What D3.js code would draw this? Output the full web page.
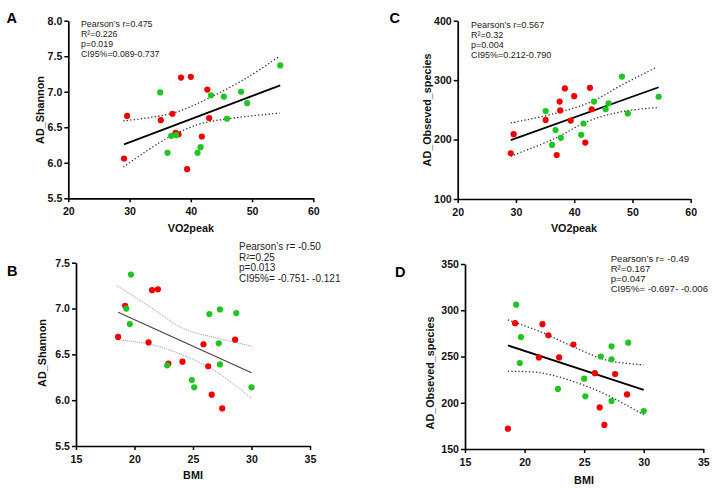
<!DOCTYPE html>
<html>
<head>
<meta charset="utf-8">
<script src="https://cdn.jsdelivr.net/npm/d3@7"></script>
<style>
body { margin: 0; background: #fff; }
svg { display: block; font-family: "Liberation Sans", Arial, sans-serif; }
.tick text { font-weight: bold; font-size: 10.6px; fill: #111; }
</style>
</head>
<body>
<svg id="chart" width="718" height="495"></svg>
<script>
// --- panel A: VO2peak vs AD_Shannon
var aRedX = [29.1, 29.6, 35.1, 37.0, 38.4, 40.0, 37.5, 38.0, 42.7, 43.0, 41.8, 39.4];
var aRedY = [6.06, 6.66, 6.60, 6.69, 7.20, 7.21, 6.42, 6.40, 7.03, 6.63, 6.37, 5.91];
var aGreenX = [35.0, 36.8, 37.6, 36.2, 41.6, 41.1, 43.3, 45.4, 48.2, 49.2, 45.9, 54.6];
var aGreenY = [6.99, 6.38, 6.39, 6.14, 6.22, 6.14, 6.95, 6.93, 7.00, 6.84, 6.62, 7.37];
var aFit = [[29.1, 6.26], [54.6, 7.09]];
var aUpper = [[29.0, 6.59], [37.1, 6.70], [43.4, 6.93], [49.4, 7.21], [54.5, 7.50]];
var aLower = [[29.0, 5.94], [35.8, 6.33], [41.2, 6.54], [46.1, 6.62], [54.5, 6.70]];
var aStats = ["Pearson\u2019s r=0.475", "R\u00b2=0.226", "p=0.019", "CI95%=0.089-0.737"];

// --- panel C: VO2peak vs AD_Obseved_species
var cRedX = [29.1, 29.6, 35.1, 37.6, 37.5, 38.4, 40.0, 39.4, 37.0, 42.7, 43.0, 41.9];
var cRedY = [177, 209, 233, 249, 264, 286, 273, 232, 174, 287, 251, 195];
var cGreenX = [35.1, 36.8, 36.2, 37.7, 41.6, 41.2, 43.4, 45.4, 45.9, 48.2, 49.2, 54.5];
var cGreenY = [248, 216, 191, 203, 227, 208, 264, 251, 261, 306, 244, 272];
var cFit = [[29.1, 199], [54.5, 288]];
var cUpper = [[29.1, 228], [36.7, 244], [43.0, 264], [48.2, 292], [54.2, 322]];
var cLower = [[29.1, 172], [36.7, 202], [42.4, 231], [48.2, 247], [54.4, 254]];
var cStats = ["Pearson\u2019s r=0.567", "R\u00b2=0.32", "p=0.004", "CI95%=0.212-0.790"];

// --- panel B: BMI vs AD_Shannon
var bRedX = [18.6, 19.2, 21.5, 22.0, 21.2, 22.9, 24.1, 25.9, 26.3, 26.6, 27.5, 28.6];
var bRedY = [6.69, 7.03, 7.20, 7.21, 6.63, 6.40, 6.42, 6.61, 6.37, 6.06, 5.91, 6.66];
var bGreenX = [19.7, 19.3, 19.6, 22.8, 24.9, 25.1, 26.4, 27.3, 27.2, 27.3, 28.7, 30.0];
var bGreenY = [7.37, 7.00, 6.83, 6.38, 6.22, 6.14, 6.94, 6.99, 6.62, 6.39, 6.95, 6.14];
var bFit = [[18.6, 6.96], [30.0, 6.30]];
var bUpper = [[18.5, 7.25], [21.3, 7.02], [24.2, 6.78], [27.0, 6.68], [30.0, 6.59]];
var bLower = [[18.5, 6.66], [21.3, 6.61], [24.2, 6.49], [27.0, 6.31], [30.0, 6.02]];
var bStats = ["Pearson\u2019s r= -0.50", "R\u00b2=0.25", "p=0.013", "CI95%= -0.751- -0.121"];

// --- panel D: BMI vs AD_Obseved_species
var dRedX = [18.6, 19.2, 21.5, 22.0, 21.2, 22.9, 24.1, 25.9, 27.6, 26.3, 26.7, 28.6];
var dRedY = [172, 286, 285, 273, 249, 249, 263, 232, 231, 195, 176, 209];
var dGreenX = [19.3, 19.7, 19.6, 22.8, 25.0, 25.1, 26.4, 27.3, 27.3, 27.3, 28.7, 30.0];
var dGreenY = [306, 271, 243, 215, 226, 207, 250, 261, 247, 202, 265, 191];
var dFit = [[18.6, 262], [30.0, 214]];
var dUpper = [[18.6, 289.5], [21.3, 277], [24.1, 260.5], [26.9, 246], [30.0, 241]];
var dLower = [[18.6, 234], [21.3, 232.5], [24.1, 223], [26.9, 208.5], [30.0, 187]];
var dStats = ["Pearson\u2019s r= -0.49", "R\u00b2=0.167", "p=0.047", "CI95%= -0.697- -0.006"];

// tick values
var vo2Ticks = [20, 30, 40, 50, 60];
var bmiTicks = [15, 20, 25, 30, 35];
var shannonTicks = [5.5, 6.0, 6.5, 7.0, 7.5, 8.0];
var shannonTicksB = [5.5, 6.0, 6.5, 7.0, 7.5];
var speciesTicksC = [100, 200, 300, 400];
var speciesTicksD = [150, 200, 250, 300, 350];

var RED = "#f20000", GREEN = "#20c620";

var svg = d3.select("#chart");

var zip = function(xs, ys) {
    return xs.map(function(x, i) { return [x, ys[i]]; });
};

var drawPanel = function(p) {
    var x = d3.scaleLinear().domain(p.xd).range([p.left, p.right]);
    var y = d3.scaleLinear().domain(p.yd).range([p.bottom, p.top]);
    var g = svg.append("g");

    var xa = g.append("g").attr("transform", "translate(0," + p.bottom + ")")
        .call(d3.axisBottom(x).tickValues(p.xt).tickSize(4).tickPadding(5.5).tickSizeOuter(0));
    var ya = g.append("g").attr("transform", "translate(" + p.left + ",0)")
        .call(d3.axisLeft(y).tickValues(p.yt).tickSize(4).tickPadding(2).tickSizeOuter(0)
            .tickFormat(p.yf));
    [xa, ya].forEach(function(a) {
        a.select(".domain").attr("stroke", "#000").attr("stroke-width", 1.7);
        a.selectAll(".tick line").attr("stroke", "#000").attr("stroke-width", 1.5);
    });

    var line = d3.line().x(function(d) { return x(d[0]); }).y(function(d) { return y(d[1]); });
    var band = d3.line().curve(d3.curveCatmullRom)
        .x(function(d) { return x(d[0]); }).y(function(d) { return y(d[1]); });

    [p.upper, p.lower].forEach(function(c) {
        g.append("path").attr("d", band(c)).attr("fill", "none")
            .attr("stroke", p.ciColor).attr("stroke-width", p.ciWidth)
            .attr("stroke-dasharray", p.ciDash);
    });
    g.append("path").attr("d", line(p.fit)).attr("fill", "none")
        .attr("stroke", p.fitColor).attr("stroke-width", p.fitWidth);

    g.selectAll("circle.red").data(p.red).enter().append("circle")
        .attr("cx", function(d) { return x(d[0]); })
        .attr("cy", function(d) { return y(d[1]); })
        .attr("r", 3.1).attr("fill", RED);
    g.selectAll("circle.green").data(p.green).enter().append("circle")
        .attr("cx", function(d) { return x(d[0]); })
        .attr("cy", function(d) { return y(d[1]); })
        .attr("r", 3.1).attr("fill", GREEN);

    g.append("text").attr("x", p.xl[0]).attr("y", p.xl[1]).attr("text-anchor", "middle")
        .attr("font-weight", "bold").attr("font-size", 10.8).attr("fill", "#111").text(p.xLabel);
    g.append("text").attr("transform", "translate(" + p.yl[0] + "," + p.yl[1] + ") rotate(-90)")
        .attr("text-anchor", "middle").attr("font-weight", "bold").attr("font-size", 10.8)
        .attr("fill", "#111").text(p.yLabel);

    g.append("text").attr("x", p.letter[0]).attr("y", p.letter[1])
        .attr("font-weight", "bold").attr("font-size", 14.5).attr("fill", "#000").text(p.name);

    g.selectAll("text.stat").data(p.stats).enter().append("text")
        .attr("x", p.st[0]).attr("y", function(d, i) { return p.st[1] + i * p.st[3]; })
        .attr("font-size", p.st[2]).attr("fill", "#222").text(function(d) { return d; });
};

var f1 = d3.format(".1f"), f0 = d3.format("d");
var solid = { fitColor: "#000", fitWidth: 1.8, ciColor: "#333", ciWidth: 1.3, ciDash: "1.3,2.2" };

drawPanel(Object.assign({}, solid, {
    name: "A", left: 68.3, right: 313.3, top: 20.7, bottom: 198.3,
    xd: [20, 60], yd: [5.5, 8.0], xt: vo2Ticks, yt: shannonTicks, yf: f1,
    red: zip(aRedX, aRedY), green: zip(aGreenX, aGreenY),
    fit: aFit, upper: aUpper, lower: aLower, stats: aStats,
    xLabel: "VO2peak", yLabel: "AD_Shannon", xl: [190.8, 232], yl: [44, 110],
    letter: [6.5, 23.3], st: [81, 26.5, 8.8, 10]
}));
drawPanel(Object.assign({}, solid, {
    name: "C", left: 457.7, right: 690.7, top: 20.7, bottom: 199,
    xd: [20, 60], yd: [100, 400], xt: vo2Ticks, yt: speciesTicksC, yf: f0,
    red: zip(cRedX, cRedY), green: zip(cGreenX, cGreenY),
    fit: cFit, upper: cUpper, lower: cLower, stats: cStats,
    xLabel: "VO2peak", yLabel: "AD_Obseved_species", xl: [574, 232], yl: [430.5, 110],
    letter: [389.5, 23.3], st: [471, 28, 9, 10]
}));
drawPanel({
    name: "B", left: 76, right: 310, top: 262.7, bottom: 446,
    xd: [15, 35], yd: [5.5, 7.5], xt: bmiTicks, yt: shannonTicksB, yf: f1,
    red: zip(bRedX, bRedY), green: zip(bGreenX, bGreenY),
    fit: bFit, upper: bUpper, lower: bLower, stats: bStats,
    fitColor: "#444", fitWidth: 1.2, ciColor: "#9a9a9a", ciWidth: 1, ciDash: "1,1",
    xLabel: "BMI", yLabel: "AD_Shannon", xl: [193, 479], yl: [45.5, 353],
    letter: [7, 275.7], st: [239, 250, 10, 10.5]
});
drawPanel(Object.assign({}, solid, {
    name: "D", left: 465, right: 703.3, top: 264, bottom: 449,
    xd: [15, 35], yd: [150, 350], xt: bmiTicks, yt: speciesTicksD, yf: f0,
    red: zip(dRedX, dRedY), green: zip(dGreenX, dGreenY),
    fit: dFit, upper: dUpper, lower: dLower, stats: dStats,
    xLabel: "BMI", yLabel: "AD_Obseved_species", xl: [584, 484], yl: [434, 373],
    letter: [395, 276.7], st: [610.7, 261.5, 9.6, 10]
}));
</script>
</body>
</html>
